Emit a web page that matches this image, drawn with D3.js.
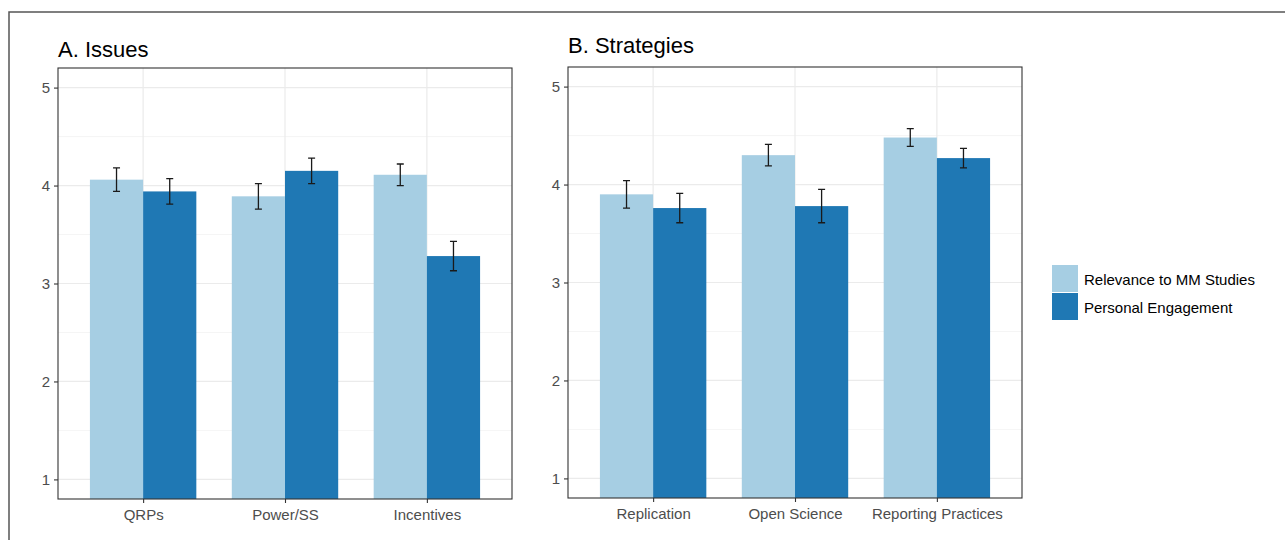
<!DOCTYPE html>
<html>
<head>
<meta charset="utf-8">
<script src="https://cdn.jsdelivr.net/npm/d3@7"></script>
<style>
  body { margin: 0; background: #fff; }
  svg { display: block; font-family: "Liberation Sans", Arial, sans-serif; }
</style>
</head>
<body>
<svg id="chart" width="1285" height="540"></svg>
<script>
// data
const issueCats = ["QRPs", "Power/SS", "Incentives"];
const strategyCats = ["Replication", "Open Science", "Reporting Practices"];
const seriesNames = ["Relevance to MM Studies", "Personal Engagement"];
const seriesColors = ["#a6cee3", "#1f78b4"];

const issueRelevance = [4.06, 3.89, 4.11];
const issueRelevanceErr = [0.12, 0.13, 0.11];
const issueEngagement = [3.94, 4.15, 3.28];
const issueEngagementErr = [0.13, 0.13, 0.15];

const strategyRelevance = [3.90, 4.30, 4.48];
const strategyRelevanceErr = [0.14, 0.11, 0.09];
const strategyEngagement = [3.76, 3.78, 4.27];
const strategyEngagementErr = [0.15, 0.17, 0.10];

const yTicks = [1, 2, 3, 4, 5];
const yMinor = [1.5, 2.5, 3.5, 4.5];

const svg = d3.select("#chart");

// outer frame (only top and left visible in the original)
svg.append("path")
  .attr("d", "M9,545V12H1290")
  .attr("fill", "none")
  .attr("stroke", "#555")
  .attr("stroke-width", 1.5);

function drawPanel(opts) {
  const { left, right, top, bottom, title, titleY, cats, rel, relErr, eng, engErr } = opts;

  const x = d3.scaleLinear().domain([0.4, cats.length + 0.6]).range([left, right]);
  const y = d3.scaleLinear().domain([0.8, 5.2]).range([bottom, top]);
  const g = svg.append("g");

  // grid
  g.selectAll(".minor").data(yMinor).join("line")
    .attr("x1", left).attr("x2", right)
    .attr("y1", d => y(d)).attr("y2", d => y(d))
    .attr("stroke", "#f2f2f2").attr("stroke-width", 0.8);
  g.selectAll(".major").data(yTicks).join("line")
    .attr("x1", left).attr("x2", right)
    .attr("y1", d => y(d)).attr("y2", d => y(d))
    .attr("stroke", "#ebebeb").attr("stroke-width", 1.2);
  g.selectAll(".vgrid").data(cats).join("line")
    .attr("x1", (d, i) => x(i + 1)).attr("x2", (d, i) => x(i + 1))
    .attr("y1", top).attr("y2", bottom)
    .attr("stroke", "#ebebeb").attr("stroke-width", 1.2);

  // bars
  const barW = 0.375;
  const rows = [];
  cats.forEach((c, i) => {
    rows.push({ i: i, s: 0, v: rel[i], e: relErr[i] });
    rows.push({ i: i, s: 1, v: eng[i], e: engErr[i] });
  });
  const x0 = d => x(d.i + 1 - barW + d.s * barW);
  g.selectAll(".bar").data(rows).join("rect")
    .attr("x", x0)
    .attr("width", x(1 + barW) - x(1))
    .attr("y", d => y(d.v))
    .attr("height", d => bottom - y(d.v))
    .attr("fill", d => seriesColors[d.s]);

  // error bars
  const mid = d => x(d.i + 1 - barW / 2 + d.s * barW);
  const cap = 3.5;
  g.selectAll(".err").data(rows).join("path")
    .attr("d", d => {
      const cx = mid(d), t = y(d.v + d.e), b = y(d.v - d.e);
      return `M${cx - cap},${t}H${cx + cap}M${cx},${t}V${b}M${cx - cap},${b}H${cx + cap}`;
    })
    .attr("fill", "none")
    .attr("stroke", "#1a1a1a")
    .attr("stroke-width", 1.3);

  // panel border
  g.append("rect")
    .attr("x", left).attr("y", top)
    .attr("width", right - left).attr("height", bottom - top)
    .attr("fill", "none").attr("stroke", "#333").attr("stroke-width", 1.1);

  // y axis
  const yAxis = g.append("g")
    .attr("transform", `translate(${left},0)`)
    .call(d3.axisLeft(y).tickValues(yTicks).tickSize(4).tickPadding(4).tickFormat(d3.format("d")));
  yAxis.select(".domain").remove();
  yAxis.selectAll("line").attr("stroke", "#333").attr("stroke-width", 1.1);
  yAxis.selectAll("text").attr("fill", "#4d4d4d").style("font-size", "15px");

  // x axis
  const xAxis = g.append("g")
    .attr("transform", `translate(0,${bottom})`)
    .call(d3.axisBottom(x).tickValues(cats.map((c, i) => i + 1)).tickSize(4).tickPadding(6)
      .tickFormat(d => cats[d - 1]));
  xAxis.select(".domain").remove();
  xAxis.selectAll("line").attr("stroke", "#333").attr("stroke-width", 1.1);
  xAxis.selectAll("text").attr("fill", "#4d4d4d").style("font-size", "15px");

  // title
  svg.append("text")
    .attr("x", left).attr("y", titleY)
    .attr("fill", "#000")
    .style("font-size", "22px")
    .text(title);
}

drawPanel({
  left: 58, right: 512, top: 68, bottom: 499, title: "A. Issues", titleY: 56.5,
  cats: issueCats, rel: issueRelevance, relErr: issueRelevanceErr,
  eng: issueEngagement, engErr: issueEngagementErr
});

drawPanel({
  left: 568, right: 1022, top: 67, bottom: 498, title: "B. Strategies", titleY: 52.5,
  cats: strategyCats, rel: strategyRelevance, relErr: strategyRelevanceErr,
  eng: strategyEngagement, engErr: strategyEngagementErr
});

// legend
const legend = svg.append("g").attr("transform", "translate(1052,265)");
seriesNames.forEach((name, i) => {
  legend.append("rect")
    .attr("x", 0).attr("y", i * 28)
    .attr("width", 26).attr("height", 27)
    .attr("fill", seriesColors[i]);
  legend.append("text")
    .attr("x", 32).attr("y", i * 28 + 20)
    .attr("fill", "#000")
    .style("font-size", "15px")
    .text(name);
});
</script>
</body>
</html>
